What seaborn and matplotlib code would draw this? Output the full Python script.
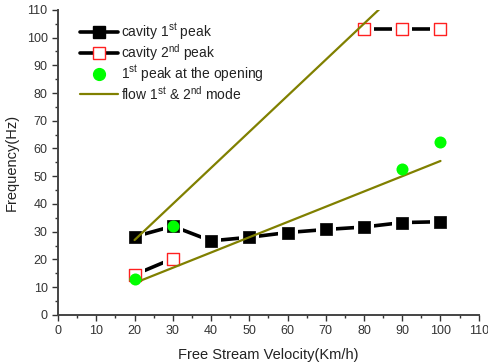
import numpy as np
import pandas as pd
import matplotlib
matplotlib.use("Agg")
import matplotlib.pyplot as plt
import seaborn as sns
from matplotlib.lines import Line2D

# Measured data
velocity = [20, 30, 40, 50, 60, 70, 80, 90, 100]
cavity_1st = [28.2, 32.0, 26.7, 28.0, 29.7, 30.8, 31.7, 33.3, 33.6]

cavity_2nd_velocity = [20, 30, 80, 90, 100]
cavity_2nd = [14.5, 20.3, 103.0, 103.0, 103.0]
cavity_2nd_segment = [0, 0, 1, 1, 1]

opening_velocity = [20, 30, 90, 100]
opening_1st = [13.0, 32.0, 52.5, 62.3]

flow_velocity = [20, 100]
flow_mode_1 = [27.0, 131.0]
flow_mode_2 = [11.5, 55.5]

x_ticks = list(range(0, 111, 10))
y_ticks = list(range(0, 111, 10))

sns.set_style("ticks")
plt.rcParams["font.family"] = ["Liberation Sans", "DejaVu Sans"]
plt.rcParams["mathtext.fontset"] = "custom"
plt.rcParams["mathtext.rm"] = "Liberation Sans"
plt.rcParams["mathtext.it"] = "Liberation Sans:italic"

fig = plt.figure(figsize=(4.88, 3.62), dpi=100)
ax = fig.add_axes([0.119, 0.130, 0.862, 0.843])

OLIVE = "#808000"
GREEN = "#00ff00"
RED = "#ff2020"

df1 = pd.DataFrame({"v": velocity, "f": cavity_1st})
df2 = pd.DataFrame({"v": cavity_2nd_velocity, "f": cavity_2nd, "seg": cavity_2nd_segment})
df3 = pd.DataFrame({"v": opening_velocity, "f": opening_1st})
dff = pd.DataFrame({"v": flow_velocity * 2,
                    "f": flow_mode_1 + flow_mode_2,
                    "mode": [1, 1, 2, 2]})

# connecting lines of the cavity peaks
sns.lineplot(data=df1, x="v", y="f", color="black", lw=2.6, ax=ax,
             estimator=None, legend=False)
sns.lineplot(data=df2, x="v", y="f", units="seg", color="black", lw=2.6,
             ax=ax, estimator=None, legend=False)

# white halos leave a small gap between lines and markers
for d in (df1, df2):
    sns.scatterplot(data=d, x="v", y="f", marker="s", s=190, color="white",
                    edgecolor="white", linewidth=0, ax=ax, zorder=3, legend=False)

sns.scatterplot(data=df1, x="v", y="f", marker="s", s=85, color="black",
                edgecolor="black", linewidth=0.5, ax=ax, zorder=4, legend=False)
sns.scatterplot(data=df2, x="v", y="f", marker="s", s=70, facecolor="white",
                edgecolor=RED, linewidth=1.0, ax=ax, zorder=4, legend=False)

# flow mode lines
sns.lineplot(data=dff, x="v", y="f", units="mode", estimator=None,
             color=OLIVE, lw=1.6, ax=ax, legend=False, zorder=5)

sns.scatterplot(data=df3, x="v", y="f", marker="o", s=75, color=GREEN,
                edgecolor=GREEN, linewidth=0, ax=ax, zorder=6, legend=False)

ax.set_xlim(0, 110)
ax.set_ylim(0, 110)
ax.set_xticks(x_ticks)
ax.set_yticks(y_ticks)
ax.set_xticks(np.arange(5, 110, 10), minor=True)
ax.set_yticks(np.arange(5, 110, 10), minor=True)
ax.tick_params(axis="both", which="major", direction="out", length=4,
               width=1.0, labelsize=9, colors="#333333", labelcolor="#333333")
ax.tick_params(axis="both", which="minor", direction="out", length=2.5,
               width=1.0, colors="#333333")
for side in ("top", "right"):
    ax.spines[side].set_visible(False)
for side in ("left", "bottom"):
    ax.spines[side].set_color("#444444")
    ax.spines[side].set_linewidth(1.4)

ax.set_xlabel("Free Stream Velocity(Km/h)", fontsize=10.5, color="#222222",
              labelpad=8)
ax.set_ylabel("Frequency(Hz)", fontsize=10.5, color="#222222", labelpad=6)

handles = [
    Line2D([], [], color="black", lw=2.6, marker="s", ms=9,
           mfc="black", mec="black"),
    Line2D([], [], color="black", lw=2.6, marker="s", ms=8,
           mfc="white", mec=RED, mew=1.0),
    Line2D([], [], color="none", marker="o", ms=8.5, mfc=GREEN, mec=GREEN),
    Line2D([], [], color=OLIVE, lw=1.6),
]
labels = [
    r"cavity 1$^{\mathrm{st}}$ peak",
    r"cavity 2$^{\mathrm{nd}}$ peak",
    r"1$^{\mathrm{st}}$ peak at the opening",
    r"flow 1$^{\mathrm{st}}$ & 2$^{\mathrm{nd}}$ mode",
]
leg = ax.legend(handles, labels, loc="upper left", frameon=False,
                fontsize=10, handlelength=2.7, handletextpad=0.25,
                labelspacing=0.02, bbox_to_anchor=(0.04, 0.98),
                borderaxespad=0.0)
for t in leg.get_texts():
    t.set_color("#222222")

fig.savefig("out.png", dpi=100)
